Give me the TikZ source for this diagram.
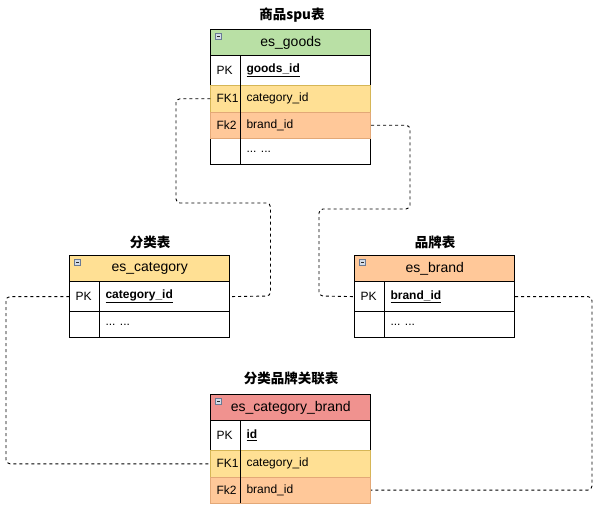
\documentclass[tikz,border=0pt]{standalone}
\usepackage{fontspec}
\setmainfont{Liberation Sans}
\newfontfamily\cjk{Noto Sans CJK SC}
\begin{document}
\begin{tikzpicture}[x=1pt,y=-1pt]
\definecolor{hgreen}{HTML}{B9E0A5}
\definecolor{hyellow}{HTML}{FFE094}
\definecolor{horange}{HTML}{FFC899}
\definecolor{hred}{HTML}{F0928F}
\definecolor{syellow}{HTML}{D6B656}
\definecolor{sorange}{HTML}{E3A877}
\definecolor{iconline}{HTML}{6A7A94}
\definecolor{iconfill}{HTML}{D3DCE8}
\tikzset{
  hdrbox/.style={draw=black, line width=0.9pt, minimum width=160pt, minimum height=26pt, inner sep=0pt, anchor=north west, font=\fontsize{14}{16}\selectfont},
  rowbox/.style={draw=black, line width=0.9pt, fill=white, minimum width=160pt, inner sep=0pt, anchor=north west},
  fkyellow/.style={fill=hyellow, draw=syellow},
  fkorange/.style={fill=horange, draw=sorange},
  celltext/.style={inner sep=0pt, anchor=west, font=\fontsize{12}{14}\selectfont},
  tabtitle/.style={inner sep=0pt, font=\cjk\bfseries\fontsize{13.5}{15}\selectfont},
  divider/.style={line width=0.9pt, draw=black},
  conn/.style={draw=black, line width=0.9pt, dash pattern=on 3pt off 3pt, rounded corners=4pt},
}
\newcommand{\erdrow}[7]{%
  \node[rowbox, #5, minimum height=#4] (#1) at (#2,#3) {};
  \node[celltext] (#1k) at ([xshift=6pt]#1.west) {#6};
  \node[celltext] (#1f) at ([xshift=36pt]#1.west) {#7};
}
\newcommand{\erdicon}[2]{%
  \draw[iconline, fill=iconfill, line width=0.8pt] (#1+5.5,#2+4.5) rectangle (#1+11.5,#2+10.5);
  \draw[black!85, line width=1pt] (#1+7,#2+7.5) -- (#1+10,#2+7.5);
}
\useasboundingbox (0,0) rectangle (598,508);
\fill[white] (0,0) rectangle (598,508);

% ---------- es_goods ----------
\node[tabtitle] (tgoods) at (292,15) {商品spu表};
\node[hdrbox, fill=hgreen] (ghdr) at (210.3,29.3) {es\_goods};
\erdicon{210.3}{29.3}
\erdrow{gpk}{210.3}{55.3}{29.7pt}{}{PK}{\underline{\textbf{goods\_id}}}
\erdrow{gdots}{210.3}{138}{26pt}{}{}{... ...}
\erdrow{gfka}{210.3}{85}{26.7pt}{fkyellow}{FK1}{category\_id}
\erdrow{gfkb}{210.3}{111.7}{26.3pt}{fkorange}{Fk2}{brand\_id}
\draw[divider] ([xshift=30pt]gpk.north west) -- ([xshift=30pt]gdots.south west);

% ---------- es_category ----------
\node[tabtitle] (tcat) at (150,242) {分类表};
\node[hdrbox, fill=hyellow] (chdr) at (69.3,255.3) {es\_category};
\erdicon{69.3}{255.3}
\erdrow{cpk}{69.3}{281.3}{29.7pt}{}{PK}{\underline{\textbf{category\_id}}}
\erdrow{cdots}{69.3}{311}{26pt}{}{}{... ...}
\draw[divider] ([xshift=30pt]cpk.north west) -- ([xshift=30pt]cdots.south west);

% ---------- es_brand ----------
\node[tabtitle] (tbrand) at (435,242) {品牌表};
\node[hdrbox, fill=horange] (bhdr) at (354.3,255.3) {es\_brand};
\erdicon{354.3}{255.3}
\erdrow{bpk}{354.3}{281.3}{29.7pt}{}{PK}{\underline{\textbf{brand\_id}}}
\erdrow{bdots}{354.3}{311}{26pt}{}{}{... ...}
\draw[divider] ([xshift=30pt]bpk.north west) -- ([xshift=30pt]bdots.south west);

% ---------- es_category_brand ----------
\node[tabtitle] (tcb) at (291,378) {分类品牌关联表};
\node[hdrbox, fill=hred] (xhdr) at (210.3,394.3) {es\_category\_brand};
\erdicon{210.3}{394.3}
\erdrow{xpk}{210.3}{420.3}{29.7pt}{}{PK}{\underline{\textbf{id}}}
\erdrow{xfka}{210.3}{450}{26.7pt}{fkyellow}{FK1}{category\_id}
\erdrow{xfkb}{210.3}{476.7}{25.8pt}{fkorange}{Fk2}{brand\_id}
\draw[divider] ([xshift=30pt]xpk.north west) -- ([xshift=30pt]xfkb.south west);

% ---------- connectors ----------
\draw[conn] (gfka.west) -| (176,203) -| (270.5,296) -- (cpk.east);
\draw[conn] (gfkb.east) -| (410,209) -| (319,296) -- (bpk.west);
\draw[conn] (cpk.west) -| (6,380) |- (xfka.west);
\draw[conn] (bpk.east) -| (592,400) |- (xfkb.east);
\end{tikzpicture}
\end{document}
